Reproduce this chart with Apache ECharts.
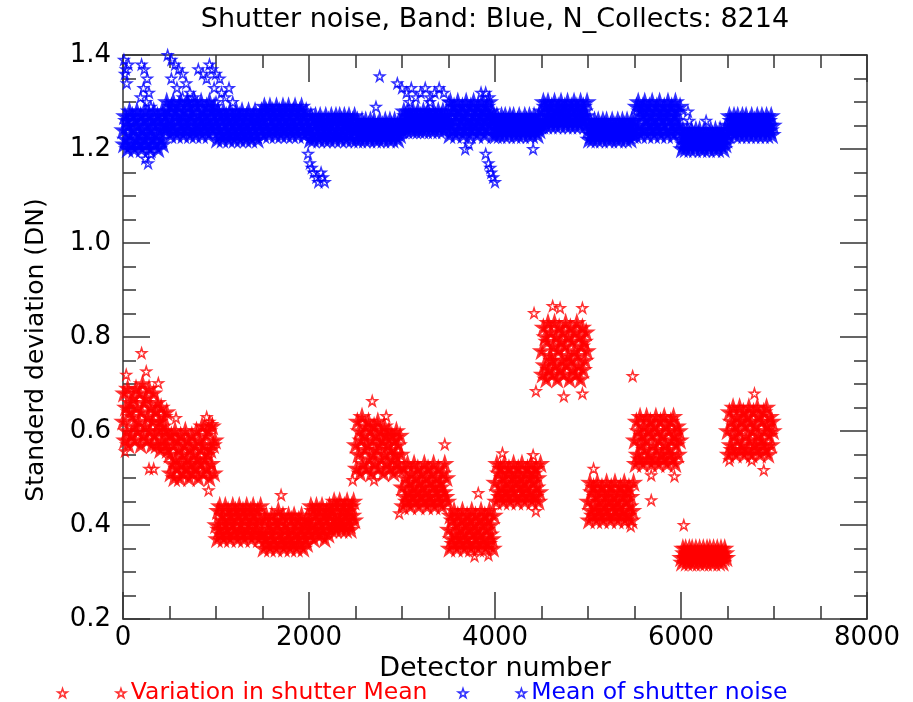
<!DOCTYPE html>
<html>
<head>
<meta charset="utf-8">
<title>Shutter noise, Band: Blue</title>
<script src="https://cdn.jsdelivr.net/npm/echarts@6/dist/echarts.min.js"></script>
<style>
  html, body { margin: 0; padding: 0; background: #fff; }
  #chart { width: 913px; height: 702px; }
</style>
</head>
<body>
<div id="chart"></div>
<script>
  // detector spacing between the sampled values below
  const detectorStep = 10;

  const xTickValues = [0, 2000, 4000, 6000, 8000];
  const yTickValues = [0.2, 0.4, 0.6, 0.8, 1.0, 1.2, 1.4];

  // variation in shutter mean, hundredths of DN, one value per detectorStep
  const variationMean = [
    62,68,58,65,60,69,57,64,66,59,63,67,61,58,69,65,60,62,68,57,64,70,59,66,61,
    67,58,63,69,60,65,57,62,68,59,64,57,66,60,62,56,65,58,61,63,57,60,64,56,59,
    55,51,59,53,57,50,60,54,52,58,56,50,59,53,55,51,57,60,52,54,58,50,56,53,59,
    51,55,57,52,60,54,50,58,53,56,61,51,57,54,59,52,55,60,50,56,53,61,57,51,58,
    40,37,43,39,44,38,41,42,37,40,44,39,38,43,41,37,42,40,44,38,39,43,41,37,42,
    44,39,40,38,43,37,41,42,44,39,38,40,43,37,41,44,42,38,40,39,43,37,41,44,38,
    38,35,41,37,42,36,39,40,35,38,42,36,37,41,39,35,40,43,38,36,41,37,42,35,39,
    40,36,38,42,37,35,41,39,36,42,38,40,35,37,41,36,39,42,38,35,40,37,41,36,39,
    41,38,44,40,43,37,42,39,44,38,41,43,40,38,44,39,42,37,41,43,40,38,44,42,39,
    43,40,45,41,39,44,42,40,45,41,39,43,40,44,42,39,45,41,43,40,39,44,42,45,41,
    57,52,62,55,60,51,58,63,53,59,56,61,52,57,62,54,60,51,58,55,61,53,59,56,62,
    52,57,60,54,58,51,61,55,59,53,57,60,52,56,59,54,51,58,55,60,53,57,52,59,55,
    48,44,52,46,50,45,53,47,49,44,51,46,48,53,45,50,47,52,44,49,46,51,48,45,53,
    47,50,44,52,46,49,45,51,48,53,44,47,50,46,52,45,49,48,44,51,47,53,46,50,45,
    39,35,42,37,41,36,43,38,40,35,42,37,39,36,41,43,38,35,40,37,42,36,39,41,35,
    43,38,40,36,42,37,39,35,41,38,43,36,40,37,42,35,39,41,36,43,38,40,37,35,42,
    49,45,53,47,51,46,52,48,50,45,53,47,49,46,51,52,45,48,50,47,53,46,49,51,45,
    52,48,50,46,53,47,49,45,51,48,52,46,50,47,53,45,49,51,46,52,48,50,45,47,53,
    77,72,82,74,80,71,79,83,73,76,81,75,72,78,83,74,80,71,77,82,73,79,75,81,72,
    78,83,74,76,80,71,82,75,79,73,77,81,72,83,76,74,80,71,78,82,73,79,75,81,77,
    45,41,49,43,47,42,48,44,46,41,49,43,45,42,47,48,41,44,46,43,49,42,45,47,41,
    48,44,46,42,49,43,45,41,47,44,48,42,46,43,49,41,45,47,42,48,44,46,41,43,49,
    58,53,62,55,60,54,63,57,59,53,61,56,58,63,54,60,55,62,53,59,57,61,54,63,56,
    60,53,58,62,55,59,54,63,57,61,53,56,60,55,62,58,54,63,59,53,57,61,55,60,58,
    33,32,35,34,33,35,32,34,33,35,32,34,35,33,32,34,35,33,34,32,35,33,34,32,35,
    34,33,32,35,34,33,35,32,34,33,35,32,34,33,35,34,32,33,35,34,32,33,35,34,33,
    60,55,64,57,62,56,65,59,61,55,63,58,60,65,56,62,57,64,55,61,59,63,56,65,58,
    62,55,60,64,57,61,56,65,59,63,55,58,62,57,64,60,56,65,61,55,59,63,57,62,60
  ];

  // mean of shutter noise, hundredths of DN
  const noiseMean = [
    124,121,127,122,126,120,125,128,123,121,127,124,120,126,122,128,125,121,123,127,120,124,126,122,128,
    121,125,123,127,120,124,126,122,128,121,125,123,127,120,126,124,122,128,121,125,127,124,130,125,128,
    126,123,129,125,130,124,127,128,123,126,129,124,130,125,127,123,128,126,124,130,125,129,123,127,126,
    128,124,130,123,125,129,127,124,126,130,123,128,125,127,124,129,126,123,130,125,128,124,127,129,126,
    125,122,128,124,127,123,126,122,128,125,123,127,124,126,122,128,123,125,127,124,122,126,128,123,125,
    127,122,124,128,126,123,125,122,127,124,128,123,126,122,125,127,124,128,123,126,122,125,127,124,128,
    126,123,129,125,128,124,127,123,129,126,124,128,125,127,123,129,124,126,128,125,123,127,129,124,126,
    128,123,125,129,127,124,126,123,128,125,129,124,127,123,126,128,125,129,124,127,123,126,128,125,124,
    124,122,127,123,126,122,125,127,123,124,126,122,127,125,123,126,124,122,127,125,123,126,122,124,127,
    125,123,126,122,127,124,123,125,127,122,126,124,123,127,125,122,126,124,127,123,125,122,126,124,127,
    124,122,126,123,125,122,124,126,123,125,122,126,124,123,125,122,126,124,123,125,126,122,124,123,125,
    122,126,124,123,125,122,124,126,123,125,124,122,126,123,125,122,124,126,123,124,125,122,126,123,124,
    126,124,128,125,127,124,126,128,125,127,124,126,128,125,124,127,126,128,124,125,127,126,124,128,125,
    127,124,126,128,125,127,124,126,125,128,124,127,126,125,128,124,126,127,125,128,124,126,127,125,126,
    127,123,130,125,128,124,129,126,123,127,130,124,128,125,126,129,123,127,124,130,126,128,125,123,129,
    126,124,130,127,125,128,123,129,126,124,127,130,125,128,123,126,129,124,127,130,125,128,126,123,127,
    125,123,127,124,126,123,125,127,124,126,123,127,125,124,126,123,127,125,124,126,127,123,125,124,126,
    123,127,125,124,126,123,125,127,124,126,125,123,127,124,126,123,125,127,124,126,125,123,127,124,125,
    128,125,130,126,129,125,127,130,126,128,125,129,127,126,130,125,128,127,129,126,125,130,128,126,127,
    129,125,128,130,126,127,125,129,128,126,130,125,127,129,126,128,125,130,127,126,129,128,125,127,130,
    124,122,126,123,125,122,124,126,123,125,122,126,124,123,125,122,126,124,125,123,126,122,124,123,125,
    122,126,124,123,125,124,122,126,123,125,122,124,126,123,125,124,122,126,123,124,125,122,126,123,124,
    126,123,129,124,130,125,128,123,127,129,124,130,126,128,123,125,129,127,124,130,126,123,128,125,129,
    124,127,130,123,126,128,125,129,124,127,123,130,126,128,124,129,125,123,127,130,126,128,124,125,129,
    122,120,124,121,123,120,122,124,121,123,120,124,122,121,123,120,124,122,121,123,124,120,122,121,123,
    120,124,122,121,123,120,122,124,121,123,122,120,124,121,123,120,122,124,121,123,122,120,124,121,122,
    125,123,127,124,126,124,125,127,123,126,124,127,125,123,126,124,127,125,123,126,127,124,125,123,126,
    124,127,125,123,126,124,125,127,123,126,125,124,127,123,126,124,125,127,123,126,125,124,127,123,125
  ];

  // stray points standing out of the blocks: [detector, DN]
  const variationOutliers = [
    [200,0.766],[250,0.727],[380,0.702],[35,0.72],[20,0.557],[280,0.52],[330,0.52],
    [570,0.628],[880,0.61],[900,0.63],[930,0.62],[960,0.615],[920,0.474],[1700,0.464],
    [2470,0.496],[2680,0.664],[2700,0.496],[2830,0.632],[2970,0.425],[3460,0.572],
    [3820,0.468],[3780,0.334],[3930,0.336],[4080,0.553],[4410,0.549],[4440,0.43],
    [4420,0.851],[4620,0.866],[4700,0.862],[4940,0.862],[4440,0.685],[4740,0.674],
    [4940,0.68],[5060,0.52],[5460,0.398],[5480,0.717],[5680,0.453],[5680,0.506],
    [5930,0.504],[6030,0.40],[6520,0.538],[6760,0.538],[6790,0.68],[6890,0.517]
  ];

  const noiseOutliers = [
    [10,1.39],[30,1.37],[60,1.38],[20,1.36],[40,1.34],[190,1.31],[200,1.38],[230,1.37],
    [260,1.35],[220,1.33],[280,1.32],[250,1.30],[300,1.29],[480,1.40],[520,1.39],[560,1.38],
    [600,1.37],[640,1.36],[520,1.35],[580,1.33],[680,1.34],[720,1.32],[760,1.31],[640,1.31],
    [700,1.30],[810,1.37],[860,1.36],[900,1.35],[930,1.38],[960,1.37],[1000,1.36],[1040,1.35],
    [980,1.33],[1060,1.32],[1100,1.31],[1140,1.33],[1180,1.30],[1000,1.30],
    [2720,1.29],[2760,1.355],[2950,1.34],[3000,1.33],[3050,1.32],[3100,1.33],[3150,1.31],
    [3200,1.32],[3250,1.33],[3300,1.31],[3350,1.32],[3400,1.33],[3450,1.32],[3500,1.30],
    [3080,1.30],[3300,1.30],[3850,1.32],[3900,1.32],[3940,1.31],
    [240,1.18],[270,1.17],[300,1.19],
    [1990,1.19],[2010,1.17],[2030,1.16],[2050,1.15],[2080,1.14],[2100,1.13],[2130,1.15],
    [2150,1.14],[2170,1.13],
    [3680,1.20],[3720,1.21],[3900,1.19],[3930,1.17],[3950,1.16],[3960,1.15],[3980,1.14],
    [4000,1.13],[4410,1.20],[6075,1.28],[6090,1.26],[6270,1.26]
  ];

  const RED = '#ff0000';
  const BLUE = '#0000ff';
  const FONT = 'DejaVu Sans';

  const STAR = 'path://M50,0L61.2,34.6L97.6,34.5L68.1,55.9L79.4,90.5L50,69L20.6,90.5L31.9,55.9L2.4,34.5L38.8,34.6Z';
  // two small stars as in the IDL legend sample
  const TWO_STARS = STAR +
    'M630,0L641.2,34.6L677.6,34.5L648.1,55.9L659.4,90.5L630,69L600.6,90.5L611.9,55.9L582.4,34.5L618.8,34.6Z';

  const toPoints = vals => vals.map((v, i) => [i * detectorStep, v / 100]);

  const axisLineStyle = { color: '#333', width: 1.5 };

  function xAxisDef(pos) {
    return {
      type: 'value',
      position: pos,
      min: xTickValues[0],
      max: xTickValues[xTickValues.length - 1],
      interval: xTickValues[1] - xTickValues[0],
      axisLine: { show: true, onZero: false, lineStyle: axisLineStyle },
      axisTick: { show: true, inside: true, length: 27, lineStyle: axisLineStyle },
      minorTick: { show: true, splitNumber: 4, length: 13, lineStyle: axisLineStyle },
      splitLine: { show: false },
      axisLabel: pos === 'bottom'
        ? { show: true, fontSize: 26, fontFamily: FONT, color: '#000', margin: 6,
            formatter: v => String(v) }
        : { show: false }
    };
  }

  function yAxisDef(pos) {
    return {
      type: 'value',
      position: pos,
      min: yTickValues[0],
      max: yTickValues[yTickValues.length - 1],
      interval: 0.2,
      axisLine: { show: true, onZero: false, lineStyle: axisLineStyle },
      axisTick: { show: true, inside: true, length: 27, lineStyle: axisLineStyle },
      minorTick: { show: true, splitNumber: 4, length: 13, lineStyle: axisLineStyle },
      splitLine: { show: false },
      axisLabel: pos === 'left'
        ? { show: true, fontSize: 26, fontFamily: FONT, color: '#000', margin: 12,
            formatter: v => v.toFixed(1) }
        : { show: false }
    };
  }

  const chart = echarts.init(document.getElementById('chart'), null, { renderer: 'canvas' });

  const xBottom = xAxisDef('bottom');
  xBottom.name = 'Detector number';
  xBottom.nameLocation = 'middle';
  xBottom.nameGap = 31;
  xBottom.nameTextStyle = { fontSize: 27, fontFamily: FONT, color: '#000' };

  // dense blocks: filled star, stroked in the same colour so overlapping marks merge
  const blockStyle = color => ({ color: color, borderColor: color, borderWidth: 3.5 });
  const strayStyle = color => ({ color: 'rgba(0,0,0,0)', borderColor: color, borderWidth: 1.5 });

  chart.setOption({
    animation: false,
    backgroundColor: '#fff',
    grid: { left: 123, right: 46, top: 55, bottom: 83, containLabel: false },
    xAxis: [xBottom, xAxisDef('top')],
    yAxis: [yAxisDef('left'), yAxisDef('right')],
    graphic: [
      {
        type: 'text', x: 495, y: 20,
        style: { text: 'Shutter noise, Band: Blue, N_Collects: 8214', fill: '#000',
                 font: '27px "DejaVu Sans"', align: 'center', verticalAlign: 'middle' }
      },
      {
        type: 'text', x: 36, y: 350, rotation: Math.PI / 2,
        style: { text: 'Standerd deviation (DN)', fill: '#000',
                 font: '25px "DejaVu Sans"', align: 'center', verticalAlign: 'middle' }
      }
    ],
    legend: {
      left: 52,
      top: 676,
      itemGap: 30,
      itemWidth: 68,
      itemHeight: 10,
      selectedMode: false,
      textStyle: { fontSize: 23.5, fontFamily: FONT },
      data: [
        { name: 'Variation in shutter Mean', icon: TWO_STARS,
          itemStyle: strayStyle(RED), textStyle: { color: RED } },
        { name: 'Mean of shutter noise', icon: TWO_STARS,
          itemStyle: strayStyle(BLUE), textStyle: { color: BLUE } }
      ]
    },
    series: [
      {
        name: 'Variation in shutter Mean', type: 'scatter', silent: true,
        symbol: STAR, symbolSize: 9,
        itemStyle: blockStyle(RED),
        data: toPoints(variationMean)
      },
      {
        name: 'Variation in shutter Mean', type: 'scatter', silent: true,
        symbol: STAR, symbolSize: 10,
        itemStyle: strayStyle(RED),
        data: variationOutliers
      },
      {
        name: 'Mean of shutter noise', type: 'scatter', silent: true,
        symbol: STAR, symbolSize: 9,
        itemStyle: blockStyle(BLUE),
        data: toPoints(noiseMean)
      },
      {
        name: 'Mean of shutter noise', type: 'scatter', silent: true,
        symbol: STAR, symbolSize: 10,
        itemStyle: strayStyle(BLUE),
        data: noiseOutliers
      }
    ]
  });
</script>
</body>
</html>
